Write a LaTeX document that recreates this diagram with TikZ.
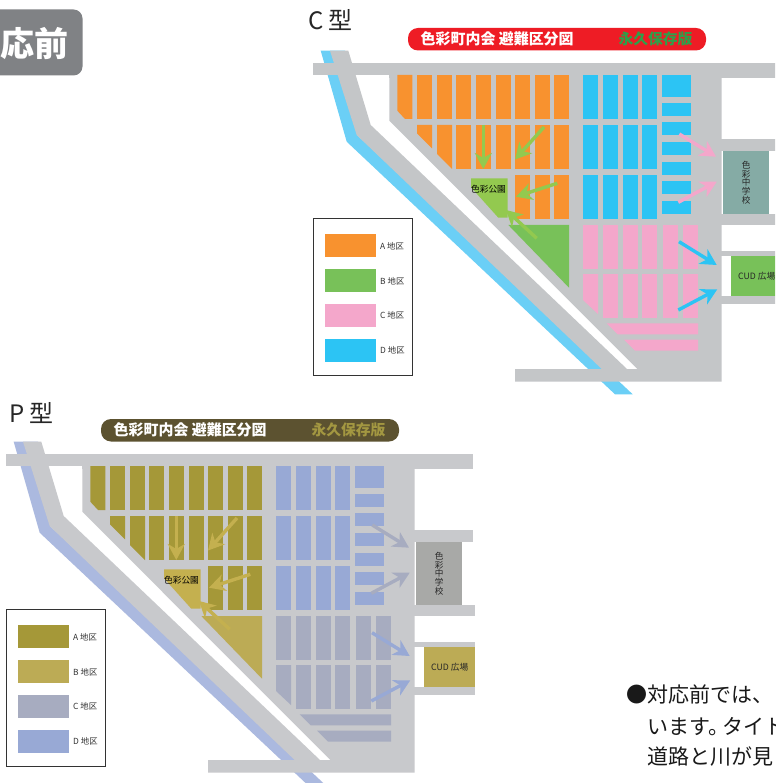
\documentclass[tikz,border=0pt]{standalone}
\usepackage{fontspec}
\usetikzlibrary{arrows.meta}
\newfontfamily\jp{Noto Sans CJK JP}
\newcommand{\jpsize}[1]{\jp\fontsize{#1}{#1}\selectfont}
\definecolor{mybadge}{HTML}{808285}
\definecolor{cA}{HTML}{F8922F}
\definecolor{cB}{HTML}{78C159}
\definecolor{cC}{HTML}{F4A7CB}
\definecolor{cD}{HTML}{2CC4F4}
\definecolor{cRiver}{HTML}{6BCFF6}
\definecolor{cRoad}{HTML}{C4C6C8}
\definecolor{cPark}{HTML}{93C94F}
\definecolor{cSchool}{HTML}{85ABA5}
\definecolor{cTitle}{HTML}{EE1C25}
\definecolor{cAccent}{HTML}{2EA04A}
\definecolor{pA}{HTML}{A59838}
\definecolor{pB}{HTML}{BCAB55}
\definecolor{pC}{HTML}{A7ACC0}
\definecolor{pD}{HTML}{98A9D5}
\definecolor{pRiver}{HTML}{ABB9DF}
\definecolor{pRoad}{HTML}{C8C9CC}
\definecolor{pPark}{HTML}{C4B04F}
\definecolor{pSchool}{HTML}{A8A9A7}
\definecolor{pTitle}{HTML}{5C5230}
\definecolor{pAccent}{HTML}{A39741}
\tikzset{
  flow/.style={draw=#1,line width=3.4pt,-{Stealth[length=16pt,width=17pt,inset=5pt,fill=#1]}},
  lbl/.style={inner sep=0pt,text=black!80,font=\jpsize{8.4}},
}
\newcommand{\cityblocks}{%
  % river and roads
  \fill[mRiver] (320.7,50.7)--(345,50.7)--(357,135)--(632.7,394.3)--(615,394.3)--(346.7,141.7)--cycle;
  \fill[mRoad] (330,50.7)--(348.3,50.7)--(370.7,125)--(627,369)--(601.7,369)--(356.7,135)--cycle;
  \fill[mRoad] (313.3,63.3) rectangle (390,75);
  \fill[mRoad] (389.3,63.3) rectangle (780,78.3);
  \fill[mRoad] (389.3,75)--(721.5,75)--(721.5,381.7)--(515,381.7)--(515,369)--(637.3,369)--(389.3,120.7)--cycle;
  \fill[mRoad] (715,139) rectangle (780,151);
  \fill[mRoad] (715,214) rectangle (782,224.7);
  \fill[mRoad] (715,251) rectangle (782,256);
  \fill[mRoad] (715,296) rectangle (782,304.3);
  \fill[white] (721.7,256) rectangle (731,296);
  % A row 1
  \fill[mA] (397.3,75)--(412.3,75)--(412.3,119)--(405,119)--(397.3,110.7)--cycle;
  \foreach \x in {417,437,456,476,496,515,535,554}{\fill[mA] (\x,75) rectangle +(15,44);}
  % A row 2
  \fill[mA] (417,125)--(432,125)--(432,148.3)--(417,133.3)--cycle;
  \fill[mA] (437,125)--(452,125)--(452,169)--(437,154)--cycle;
  \foreach \x in {456,476,496,515,535,554}{\fill[mA] (\x,125) rectangle +(15,44);}
  % A row 3
  \foreach \x in {515,535,554}{\fill[mA] (\x,175) rectangle +(15,44);}
  % park and B
  \fill[mPark] (471,178.3)--(507.7,178.3)--(507.7,217.7)--(498.3,217.7)--(471,187.3)--cycle;
  \fill[mB] (508.3,225)--(569,225)--(569,287.7)--cycle;
  \node[inner sep=0pt,text=black,font=\jpsize{8.7}] (park) at (488.5,189) {色彩公園};
  % D
  \foreach \x in {583,603,623,642}{
    \foreach \y in {75,125,175}{\fill[mD] (\x,\y) rectangle +(15,44);}}
  \fill[mD] (662,75) rectangle (691,97);
  \foreach \y in {103,122,142,162,181,201}{\fill[mD] (662,\y) rectangle +(29,13);}
  % C
  \foreach \x in {583,603,623,642,663,683}{\fill[mC] (\x,225) rectangle +(15,44);}
  \fill[mC] (583,274)--(598,274)--(598,314)--(583,300)--cycle;
  \foreach \x in {603,623,642,663,683}{\fill[mC] (\x,274) rectangle +(15,44);}
  \fill[mC] (606.7,323.3)--(698,323.3)--(698,334.3)--(617.7,334.3)--cycle;
  \fill[mC] (624,339.7)--(698,339.7)--(698,350.7)--(635,350.7)--cycle;
  % school and square
  \node[fill=mSchool,minimum width=46.3pt,minimum height=63pt,inner sep=0pt,anchor=north west,
        align=center,text=black!85,font=\jpsize{8.6}] (school) at (722.7,151) {色\\彩\\中\\学\\校};
  \node[fill=mSquare,minimum width=51pt,minimum height=40pt,inner sep=0pt,anchor=north west] (square) at (731,256) {};
  \node[inner sep=0pt,anchor=west,text=black!85,font=\jpsize{8.7}] (squarelabel) at (738,276.7) {CUD 広場};
  % arrows
  \draw[flow=mGo] (483.3,125)--(483.3,169);
  \draw[flow=mGo] (544,127)--(515,159.5);
  \draw[flow=mGo] (557.3,183.3)--(516,196.7);
  \draw[flow=mGo] (536.7,238.3)--(506,210);
  \draw[flow=mGp] (679.3,134)--(716,156.7);
  \draw[flow=mGp] (678.3,202.3)--(716.7,181.7);
  \draw[flow=mGb] (679,241.7)--(716.7,265);
  \draw[flow=mGb] (678.3,310)--(717.3,289.3);
  % legend
  \node[draw=black!80,line width=0.9pt,minimum width=99pt,minimum height=157pt,anchor=north west,inner sep=0pt] (legend) at (313.3,218.3) {};
  \fill[mA] (325,234) rectangle +(51,23);
  \fill[mB] (325,269) rectangle +(51,23);
  \fill[mC] (325,304) rectangle +(51,23);
  \fill[mD] (325,339) rectangle +(51,23);
  \node[lbl,anchor=west] (la) at (380,246) {A 地区};
  \node[lbl,anchor=west] (lb) at (380,281) {B 地区};
  \node[lbl,anchor=west] (lc) at (380,315) {C 地区};
  \node[lbl,anchor=west] (ld) at (380,350) {D 地区};
  % title
  \fill[mTitle,rounded corners=10pt] (408,28) rectangle (706,50.5);
  \node[inner sep=0pt,anchor=west,text=white,font=\jp\bfseries\fontsize{14.95}{15}\selectfont] (ttl) at (420.5,39.2) {色彩町内会 避難区分図};
  \node[inner sep=0pt,anchor=west,text=mAccent,font=\jp\bfseries\fontsize{14.8}{14.8}\selectfont] (acc) at (618.3,39.2) {永久保存版};
}
\begin{document}
\begin{tikzpicture}[x=1pt,y=-1pt]
\useasboundingbox (0,0) rectangle (775,783);
\clip (0,0) rectangle (775,783);
\fill[white] (0,0) rectangle (775,783);
% badge
\fill[mybadge,rounded corners=9pt] (-20,9.5) rectangle (82.5,75.5);
\node[inner sep=0pt,text=white,font=\jp\bfseries\fontsize{34}{34}\selectfont,anchor=east] (badge) at (68.8,44) {応前};
% C type
\node[inner sep=0pt,anchor=west,text=black!85,font=\jpsize{24}] (ctype) at (308,20) {C 型};
\begin{scope}
  \colorlet{mA}{cA}\colorlet{mB}{cB}\colorlet{mC}{cC}\colorlet{mD}{cD}
  \colorlet{mRiver}{cRiver}\colorlet{mRoad}{cRoad}\colorlet{mPark}{cPark}
  \colorlet{mSchool}{cSchool}\colorlet{mSquare}{cB}\colorlet{mTitle}{cTitle}
  \colorlet{mAccent}{cAccent}\colorlet{mGo}{cPark}\colorlet{mGp}{cC}\colorlet{mGb}{cD}
  \cityblocks
\end{scope}
% P type
\node[inner sep=0pt,anchor=west,text=black!85,font=\jpsize{24}] (ptype) at (9,413) {P 型};
\begin{scope}[shift={(-307,391)}]
  \colorlet{mA}{pA}\colorlet{mB}{pB}\colorlet{mC}{pC}\colorlet{mD}{pD}
  \colorlet{mRiver}{pRiver}\colorlet{mRoad}{pRoad}\colorlet{mPark}{pPark}
  \colorlet{mSchool}{pSchool}\colorlet{mSquare}{pB}\colorlet{mTitle}{pTitle}
  \colorlet{mAccent}{pAccent}\colorlet{mGo}{pPark}\colorlet{mGp}{pC}\colorlet{mGb}{pD}
  \cityblocks
\end{scope}
% caption
\node[inner sep=0pt,anchor=west,text=black!90,font=\jpsize{21}] (cap1) at (626.5,694) {●対応前では、};
\node[inner sep=0pt,anchor=west,text=black!90,font=\jpsize{21}] (cap2) at (647.5,727) {います。\hspace{-7pt}タイト};
\node[inner sep=0pt,anchor=west,text=black!90,font=\jpsize{21}] (cap3) at (647.5,757) {道路と川が見};
\end{tikzpicture}
\end{document}
